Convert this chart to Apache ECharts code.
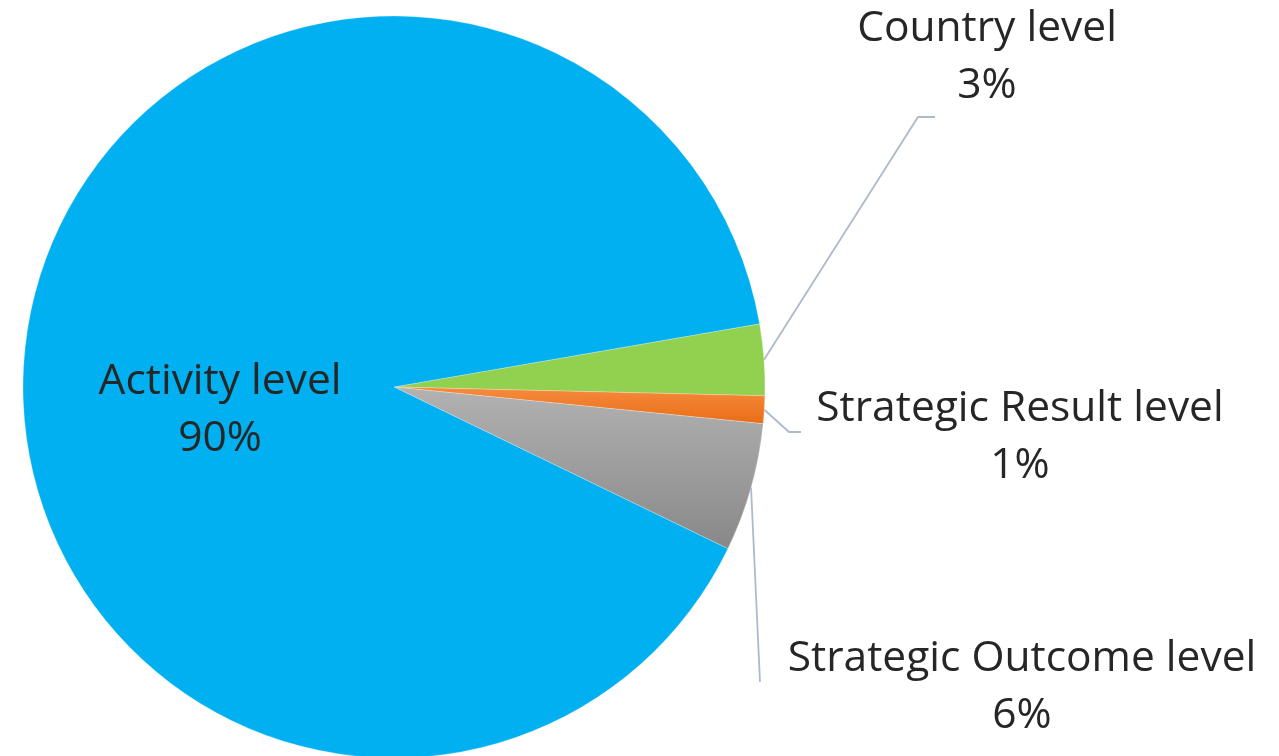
<!DOCTYPE html>
<html>
<head>
<meta charset="utf-8">
<script src="https://cdn.jsdelivr.net/npm/echarts@6/dist/echarts.min.js"></script>
<style>
  html, body { margin: 0; padding: 0; background: #fff; }
  #chart { width: 1279px; height: 756px; }
</style>
</head>
<body>
<div id="chart"></div>
<script>
// data
var categories = ['Country level', 'Strategic Result level', 'Strategic Outcome level', 'Activity level'];
var shares = [3.1, 1.2, 5.6, 90.1];

// slice fills
var fills = [
    '#92D050',
    new echarts.graphic.LinearGradient(0, 0, 0, 1, [
        {offset: 0, color: '#F68B3E'},
        {offset: 1, color: '#E96D16'}
    ]),
    new echarts.graphic.LinearGradient(0, 0, 0, 1, [
        {offset: 0, color: '#B2B2B2'},
        {offset: 1, color: '#888888'}
    ]),
    '#00B0F0'
];

// label placement (center of label block, and leader line bends)
var labelPlaces = {
    'Country level': {x: 987, y: 57, line: [[918, 117], [935, 117]]},
    'Strategic Result level': {x: 1020, y: 437, line: [[789, 432], [801, 432]]},
    'Strategic Outcome level': {x: 1022, y: 687, line: [[760, 682], [760, 682]]},
    'Activity level': {x: 220, y: 410, line: null}
};

var chart = echarts.init(document.getElementById('chart'));

var seriesData = categories.map(function (name, i) {
    return {
        name: name,
        value: shares[i],
        itemStyle: {color: fills[i]},
        label: {position: i === 3 ? 'inside' : 'outside'},
        labelLine: {show: i !== 3}
    };
});

var option = {
    animation: false,
    series: [
        {
            type: 'pie',
            center: [394, 387],
            radius: [0, 371],
            startAngle: 9.8,
            clockwise: true,
            percentPrecision: 0,
            avoidLabelOverlap: false,
            itemStyle: {
                borderColor: 'rgba(255,255,255,0.5)',
                borderWidth: 0.5
            },
            label: {
                formatter: '{b}\n{d}%',
                fontFamily: 'Open Sans',
                fontSize: 42.5,
                lineHeight: 57,
                color: '#262626',
                align: 'center'
            },
            labelLine: {
                lineStyle: {color: '#ADBACB', width: 1.8}
            },
            labelLayout: function (params) {
                var name = categories[params.dataIndex];
                var p = labelPlaces[name];
                var out = {
                    x: p.x,
                    y: p.y,
                    align: 'center',
                    verticalAlign: 'middle'
                };
                if (p.line && params.labelLinePoints) {
                    out.labelLinePoints = [params.labelLinePoints[0]].concat(p.line);
                }
                return out;
            },
            data: seriesData
        }
    ]
};
chart.setOption(option);
</script>
</body>
</html>
